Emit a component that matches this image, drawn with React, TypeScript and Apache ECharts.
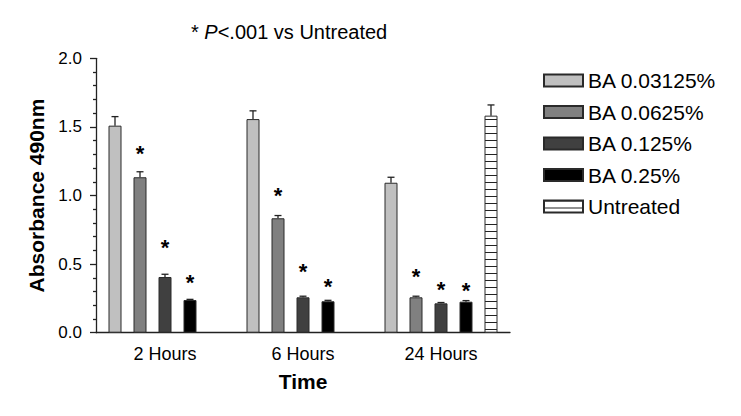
import React, { useEffect, useRef } from "react";
import * as echarts from "echarts";

const categories = ["2 Hours", "6 Hours", "24 Hours"];
const seriesNames = ["BA 0.03125%", "BA 0.0625%", "BA 0.125%", "BA 0.25%", "Untreated"];
const seriesColors = ["#c0c0c0", "#808080", "#404040", "#000000", "#ffffff"];

const ba003125 = [1.509, 1.557, 1.093];
const ba00625 = [1.133, 0.834, 0.258];
const ba0125 = [0.406, 0.258, 0.214];
const ba025 = [0.238, 0.229, 0.226];
const untreated = [null, null, 1.582];

const err003125 = [0.066, 0.06, 0.04];
const err00625 = [0.04, 0.02, 0.008];
const err0125 = [0.02, 0.008, 0.006];
const err025 = [0.005, 0.007, 0.008];
const errUntreated = [null, null, 0.078];

// heights (in absorbance units) of the significance asterisks
const star003125 = [null, null, null];
const star00625 = [1.339, 1.035, 0.445];
const star0125 = [0.654, 0.481, 0.348];
const star025 = [0.399, 0.372, 0.343];
const starUntreated = [null, null, null];

const yTicks = { min: 0, max: 2, interval: 0.5 };

const allValues = [ba003125, ba00625, ba0125, ba025, untreated];
const allErrors = [err003125, err00625, err0125, err025, errUntreated];
const allStars = [star003125, star00625, star0125, star025, starUntreated];

const BAR_W = 13;
const BAR_GAP = 12;
const FONT = "'Liberation Sans', Arial, Helvetica, sans-serif";

function makeStripePattern() {
  const c = document.createElement("canvas");
  c.width = 8;
  c.height = 7;
  const ctx = c.getContext("2d")!;
  ctx.fillStyle = "#ffffff";
  ctx.fillRect(0, 0, 8, 7);
  ctx.fillStyle = "#222222";
  ctx.fillRect(0, 0, 8, 1);
  return { image: c, repeat: "repeat", imageWidth: 8, imageHeight: 7 } as any;
}

export default function App() {
  const ref = useRef<HTMLDivElement>(null);
  useEffect(() => {
    if (!ref.current) return;
    const chart = echarts.init(ref.current, null, { renderer: "svg" });
    const pattern = makeStripePattern();

    const barSeries = seriesNames.map((name, s) => ({
      name,
      type: "bar",
      data: allValues[s],
      barWidth: BAR_W,
      barGap: (BAR_GAP / BAR_W) * 100 + "%",
      itemStyle: {
        color: s === 4 ? pattern : seriesColors[s],
        borderColor: "#2a2a2a",
        borderWidth: 1,
      },
      z: 2,
    }));

    const errData: any[] = [];
    allValues.forEach((vals, s) => {
      vals.forEach((v, c) => {
        if (v == null) return;
        const e = allErrors[s][c] ?? 0;
        const st = allStars[s][c];
        errData.push([c, s, v, e, st == null ? -1 : st]);
      });
    });

    const errSeries = {
      type: "custom",
      silent: true,
      z: 5,
      encode: { x: 0, y: 2 },
      data: errData,
      renderItem: (params: any, api: any) => {
        const c = api.value(0);
        const s = api.value(1);
        const v = api.value(2);
        const e = api.value(3);
        const st = api.value(4);
        const base = api.coord([c, v]);
        const cx = base[0] + (s - 2) * (BAR_W + BAR_GAP);
        const top = api.coord([c, v + e])[1];
        const children: any[] = [
          {
            type: "line",
            shape: { x1: cx, y1: base[1], x2: cx, y2: top },
            style: { stroke: "#222", lineWidth: 1.3 },
          },
          {
            type: "line",
            shape: { x1: cx - 3.5, y1: top, x2: cx + 3.5, y2: top },
            style: { stroke: "#222", lineWidth: 1.3 },
          },
        ];
        if (st >= 0) {
          const sy = api.coord([c, st])[1];
          children.push({
            type: "text",
            x: cx,
            y: sy + 5,
            style: {
              text: "*",
              fontSize: 22,
              fontWeight: "bold",
              fontFamily: FONT,
              fill: "#000",
              align: "center",
              verticalAlign: "middle",
            },
          });
        }
        return { type: "group", children };
      },
    };

    chart.setOption({
      animation: false,
      backgroundColor: "#ffffff",
      textStyle: { fontFamily: FONT },
      graphic: [
        {
          type: "text",
          left: 191,
          top: 22,
          style: {
            text: "* {i|P}<.001 vs Untreated",
            fontSize: 20,
            fontFamily: FONT,
            fill: "#000",
            rich: {
              i: { fontStyle: "italic", fontSize: 20, fontFamily: FONT, fill: "#000" },
            },
          },
        },
      ],
      legend: {
        data: seriesNames,
        orient: "vertical",
        left: 538,
        top: 64.5,
        itemWidth: 39,
        itemHeight: 12,
        itemGap: 9.5,
        icon: "rect",
        selectedMode: false,
        textStyle: {
          fontSize: 21,
          lineHeight: 22,
          fontFamily: FONT,
          color: "#000",
        },
      },
      grid: { left: 96, right: 231, top: 58.3, bottom: 83.3, containLabel: false },
      xAxis: {
        type: "category",
        data: categories,
        axisLine: { lineStyle: { color: "#222", width: 1.3 } },
        axisTick: { show: false },
        axisLabel: { fontSize: 18, color: "#000", margin: 12, fontFamily: FONT },
        name: "Time",
        nameLocation: "middle",
        nameGap: 38,
        nameTextStyle: { fontSize: 21, fontWeight: "bold", color: "#000", fontFamily: FONT },
      },
      yAxis: {
        type: "value",
        min: yTicks.min,
        max: yTicks.max,
        interval: yTicks.interval,
        axisLine: { show: true, lineStyle: { color: "#222", width: 1.3 } },
        axisTick: { show: true, length: 6, lineStyle: { color: "#222", width: 1.3 } },
        minorTick: { show: true, splitNumber: 5, length: 3, lineStyle: { color: "#222", width: 1.3 } },
        splitLine: { show: false },
        axisLabel: {
          fontSize: 17,
          color: "#000",
          margin: 14,
          fontFamily: FONT,
          formatter: (v: number) => v.toFixed(1),
        },
        name: "Absorbance 490nm",
        nameLocation: "middle",
        nameGap: 49,
        nameTextStyle: { fontSize: 21, fontWeight: "bold", color: "#000", fontFamily: FONT },
      },
      series: [...barSeries, errSeries],
    } as any);
    return () => chart.dispose();
  }, []);
  return (
    <div
      ref={ref}
      style={{ position: "fixed", left: 0, top: 0, width: 741, height: 416 }}
    />
  );
}
